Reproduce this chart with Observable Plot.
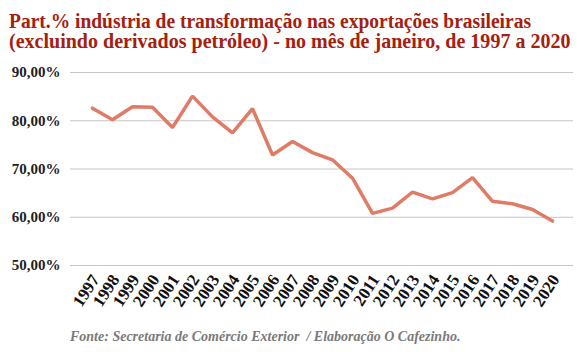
<!DOCTYPE html>
<html>
<head>
<meta charset="utf-8">
<script src="https://cdn.jsdelivr.net/npm/d3@7"></script>
<script src="https://cdn.jsdelivr.net/npm/@observablehq/plot@0.6"></script>
<style>
  html, body { margin: 0; padding: 0; background: #fff; }
  #wrap { position: relative; width: 585px; height: 352px; overflow: hidden; }
  .tl { position: absolute; left: 9px; font-family: "Liberation Serif", serif; font-weight: bold; font-size: 20.5px; line-height: 18px; height: 18px; color: #a5200f; white-space: nowrap; transform-origin: 0 0; }
  #t1 { top: 12px; transform: scaleX(0.95); }
  #t2 { top: 31.5px; transform: scaleX(0.977); }
  #caption { position: absolute; left: 70px; top: 329px; font-family: "Liberation Serif", serif; font-weight: bold; font-style: italic; font-size: 14px; color: #7a7a7a; white-space: pre; }
  #chart { position: absolute; left: 0; top: 0; }
</style>
</head>
<body>
<div id="wrap">
  <div id="chart"></div>
  <div class="tl" id="t1">Part.% indústria de transformação nas exportações brasileiras</div>
  <div class="tl" id="t2">(excluindo derivados petróleo) - no mês de janeiro, de 1997 a 2020</div>
  <div id="caption">Fonte: Secretaria de Comércio Exterior  / Elaboração O Cafezinho.</div>
</div>
<script>
const years = ["1997","1998","1999","2000","2001","2002","2003","2004","2005","2006","2007","2008","2009","2010","2011","2012","2013","2014","2015","2016","2017","2018","2019","2020"];
const shares = [82.6, 80.2, 82.9, 82.8, 78.6, 85.1, 80.8, 77.5, 82.5, 72.9, 75.7, 73.4, 71.9, 68.1, 60.8, 61.9, 65.2, 63.8, 65.1, 68.2, 63.3, 62.8, 61.6, 59.2];
const yTicks = [50, 60, 70, 80, 90];

const data = years.map((y, i) => ({year: y, value: shares[i]}));

const chart = Plot.plot({
  width: 585,
  height: 352,
  marginLeft: 70,
  marginRight: 12,
  marginTop: 72,
  marginBottom: 87,
  style: {fontFamily: "Liberation Serif, serif", background: "transparent"},
  x: {type: "point", domain: years, padding: 0.5},
  y: {domain: [50, 90]},
  marks: [
    Plot.gridY(yTicks, {stroke: "#c6c6c6", strokeOpacity: 1, strokeWidth: 1}),
    Plot.axisY(yTicks, {
      tickSize: 0, tickPadding: 10, label: null,
      tickFormat: d => d.toFixed(2).replace(".", ",") + "%",
      fontSize: 15, fontWeight: "bold", fill: "#222"
    }),
    Plot.axisX({
      tickSize: 0, tickPadding: 11, tickRotate: -57, label: null, dx: 3,
      fontSize: 17, fontWeight: "bold", fill: "#111"
    }),
    Plot.line(data, {x: "year", y: "value", stroke: "#df7b66", strokeWidth: 3.5, strokeLinejoin: "miter"})
  ]
});
document.getElementById("chart").appendChild(chart);
</script>
</body>
</html>
